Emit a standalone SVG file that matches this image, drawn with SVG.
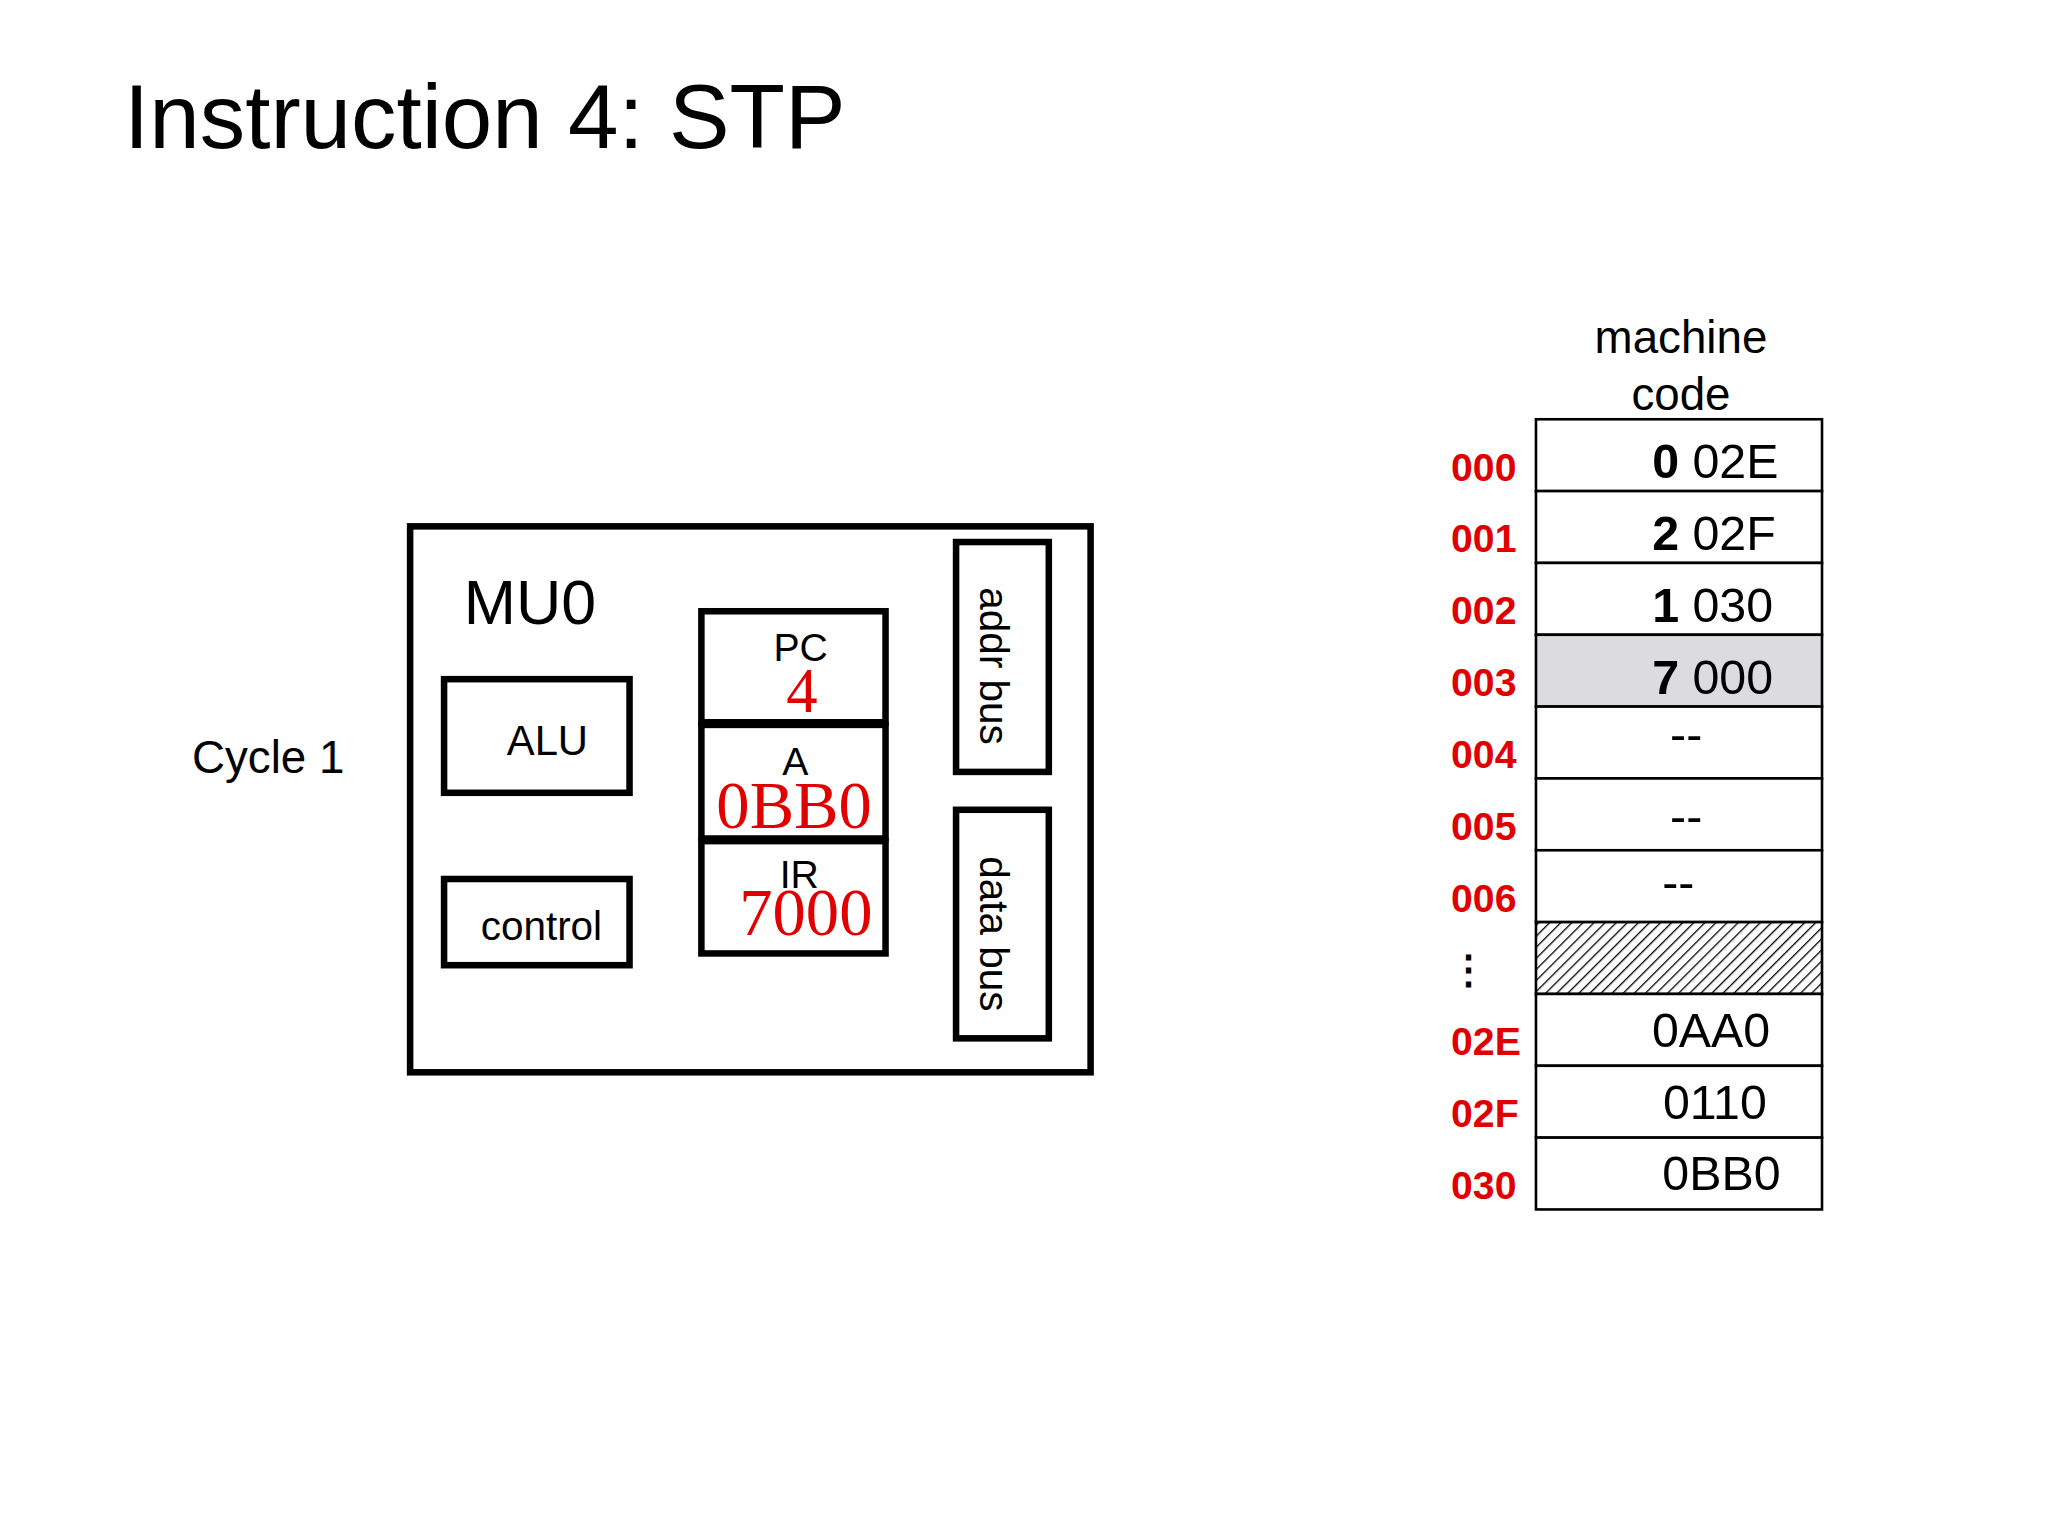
<svg xmlns="http://www.w3.org/2000/svg" width="2048" height="1536" viewBox="0 0 2048 1536">
<style>
.s{font-family:"Liberation Sans",Arial,sans-serif;fill:#000}
.r{font-family:"Liberation Serif","Times New Roman",serif;fill:#e00000}
.box{fill:none;stroke:#000;stroke-width:5}
.cell{fill:#fff;stroke:#000;stroke-width:2}
.lab{font-family:"Liberation Sans",Arial,sans-serif;fill:#e00000;font-weight:bold;font-size:30px}
.m{font-family:"Liberation Sans",Arial,sans-serif;fill:#000;font-size:37px}
</style>
<defs>
<pattern id="h" width="6" height="6" patternUnits="userSpaceOnUse" patternTransform="rotate(45)">
<rect width="6" height="6" fill="#fff"/><line x1="0" y1="0" x2="0" y2="6" stroke="#000" stroke-width="2"/>
</pattern>
</defs>
<rect width="2048" height="1536" fill="#fff"/>
<g transform="scale(1.3061)">
<text class="s" x="95" y="113" font-size="69.5">Instruction 4: STP</text>
<text class="s" x="147" y="592" font-size="35">Cycle 1</text>
<g id="mu0"><rect class="box" x="314" y="403" width="521" height="418"/><text class="s" x="355" y="478" font-size="48">MU0</text></g>
<g id="alu"><rect class="box" x="340" y="520" width="142" height="87"/><text class="s" x="388" y="578" font-size="32">ALU</text></g>
<g id="control"><rect class="box" x="340" y="673" width="142" height="66"/><text class="s" x="368" y="720" font-size="31">control</text></g>
<g id="pc"><rect class="box" x="537" y="468" width="141" height="85"/><text class="s" x="613" y="506" font-size="30" text-anchor="middle">PC</text><text class="r" x="614" y="545" font-size="48" text-anchor="middle">4</text></g>
<g id="a"><rect class="box" x="537" y="555" width="141" height="87"/><text class="s" x="609" y="593" font-size="30" text-anchor="middle">A</text><text class="r" x="608" y="634" font-size="51" text-anchor="middle">0BB0</text></g>
<g id="ir"><rect class="box" x="537" y="644" width="141" height="86"/><text class="s" x="612" y="680" font-size="30" text-anchor="middle">IR</text><text class="r" x="617" y="716" font-size="51" text-anchor="middle">7000</text></g>
<g id="addr"><rect class="box" x="732" y="415" width="71" height="176"/><text class="s" font-size="31" text-anchor="middle" transform="translate(750,510) rotate(90)">addr bus</text></g>
<g id="data"><rect class="box" x="732" y="620" width="71" height="175"/><text class="s" font-size="31" text-anchor="middle" transform="translate(750,715) rotate(90)">data bus</text></g>
<g id="memory">
<text class="s" x="1287" y="270" font-size="35" text-anchor="middle">machine</text>
<text class="s" x="1287" y="314" font-size="35" text-anchor="middle">code</text>
<rect class="cell" x="1176" y="321" width="219" height="55"/>
<rect class="cell" x="1176" y="376" width="219" height="55"/>
<rect class="cell" x="1176" y="431" width="219" height="55"/>
<rect class="cell" x="1176" y="486" width="219" height="55" style="fill:#dcdcdf"/>
<rect class="cell" x="1176" y="541" width="219" height="55"/>
<rect class="cell" x="1176" y="596" width="219" height="55"/>
<rect class="cell" x="1176" y="651" width="219" height="55"/>
<rect class="cell" x="1176" y="706" width="219" height="55" style="fill:url(#h)"/>
<rect class="cell" x="1176" y="761" width="219" height="55"/>
<rect class="cell" x="1176" y="816" width="219" height="55"/>
<rect class="cell" x="1176" y="871" width="219" height="55"/>
<text class="m" x="1265" y="366"><tspan font-weight="bold">0</tspan> 02E</text>
<text class="m" x="1265" y="421"><tspan font-weight="bold">2</tspan> 02F</text>
<text class="m" x="1265" y="476"><tspan font-weight="bold">1</tspan> 030</text>
<text class="m" x="1265" y="531"><tspan font-weight="bold">7</tspan> 000</text>
<text class="m" x="1291" y="575" text-anchor="middle">--</text>
<text class="m" x="1291" y="638" text-anchor="middle">--</text>
<text class="m" x="1285" y="688" text-anchor="middle">--</text>
<text class="m" x="1310" y="802" text-anchor="middle">0AA0</text>
<text class="m" x="1313" y="857" text-anchor="middle">0110</text>
<text class="m" x="1318" y="911" text-anchor="middle">0BB0</text>
<text class="lab" x="1111" y="368">000</text>
<text class="lab" x="1111" y="423">001</text>
<text class="lab" x="1111" y="478">002</text>
<text class="lab" x="1111" y="533">003</text>
<text class="lab" x="1111" y="588">004</text>
<text class="lab" x="1111" y="643">005</text>
<text class="lab" x="1111" y="698">006</text>
<text class="lab" x="1124" y="753" text-anchor="middle" style="fill:#000">⋮</text>
<text class="lab" x="1111" y="808">02E</text>
<text class="lab" x="1111" y="863">02F</text>
<text class="lab" x="1111" y="918">030</text>
</g>
</g>
</svg>
